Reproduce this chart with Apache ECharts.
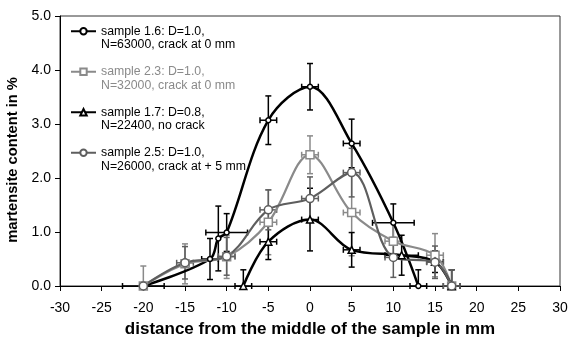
<!DOCTYPE html>
<html>
<head>
<meta charset="utf-8">
<script src="https://cdn.jsdelivr.net/npm/echarts@6/dist/echarts.min.js"></script>
<style>
  html, body { margin: 0; padding: 0; background: #fff; overflow: hidden; }
  #chart_block { width: 568px; height: 338px; }
</style>
</head>
<body>
<div id="chart_block"></div>
<script>
var xTicks = [-30, -25, -20, -15, -10, -5, 0, 5, 10, 15, 20, 25, 30];
var yTicks = [0, 1, 2, 3, 4, 5];

// sample 1.6
var s16_x  = [-20, -12, -11, -10, -5, 0, 5, 10, 13];
var s16_y  = [0, 0.50, 0.88, 0.99, 3.07, 3.69, 2.64, 1.17, 0];
var s16_xe = [2.5, 1, 0, 2.5, 1, 1, 1, 2.5, 1];
var s16_ye = [0, 0.38, 0.6, 0.35, 0.45, 0.43, 0.45, 0.35, 0.3];

// sample 2.3
var s23_x  = [-20, -15, -10, -5, 0, 5, 10, 15, 17];
var s23_y  = [0, 0.41, 0.54, 1.18, 2.43, 1.36, 0.83, 0.57, 0];
var s23_xe = [0, 0.5, 1, 1, 1, 1, 1, 1, 0];
var s23_ye = [0.37, 0.37, 0.4, 0.6, 0.35, 0.8, 0.35, 0.4, 0.3];

// sample 1.7
var s17_x  = [-8, -5, 0, 5, 11, 15, 17];
var s17_y  = [0, 0.82, 1.23, 0.67, 0.57, 0.45, 0];
var s17_xe = [1, 1, 1, 1, 2, 1, 1];
var s17_ye = [0.3, 0.33, 0.58, 0.32, 0.37, 0.2, 0.3];

// sample 2.5
var s25_x  = [-20, -15, -10, -5, 0, 5, 10, 15, 17];
var s25_y  = [0, 0.43, 0.55, 1.41, 1.62, 2.10, 0.53, 0.44, 0];
var s25_xe = [0, 1, 1, 1, 1, 1, 1, 1, 1];
var s25_ye = [0, 0.3, 0.35, 0.37, 0.4, 0.45, 0.37, 0.3, 0.3];

var names = [
  'sample 1.6: D=1.0,\nN=63000, crack at 0 mm',
  'sample 2.3: D=1.0,\nN=32000, crack at 0 mm',
  'sample 1.7: D=0.8,\nN=22400, no crack',
  'sample 2.5: D=1.0,\nN=26000, crack at + 5 mm'
];

const c16 = '#000000';
const c23 = '#8a8a8a';
const c17 = '#000000';
const c25 = '#5e5e5e';

var font = '"Liberation Sans", Arial, sans-serif';

function pts(xs, ys){
  return xs.map(function(x, i){ return [x, ys[i]]; });
}

function lineSeries(name, color, xs, ys, symbol, size, width){
  return {
    name: name,
    type: 'line',
    data: pts(xs, ys),
    smooth: 0.35,
    symbol: symbol,
    symbolSize: size,
    showAllSymbol: true,
    z: 3,
    lineStyle: { color: color, width: width },
    itemStyle: { color: '#fff', borderColor: color, borderWidth: 1.5 }
  };
}

function errSeries(color, xs, ys, xe, ye){
  return {
    type: 'custom',
    z: 2,
    silent: true,
    data: xs.map(function(x, i){ return [x, ys[i], xe[i], ye[i]]; }),
    renderItem: function(params, api){
      var x = api.value(0), y = api.value(1), dx = api.value(2), dy = api.value(3);
      var cap = 3;
      var kids = [];
      var st = { stroke: color, lineWidth: 1.5 };
      if (dy > 0){
        var top = api.coord([x, y + dy]);
        var lo = Math.max(y - dy, 0);
        var bot = api.coord([x, lo]);
        kids.push({ type: 'line', shape: { x1: top[0], y1: top[1], x2: bot[0], y2: bot[1] }, style: st });
        kids.push({ type: 'line', shape: { x1: top[0] - cap, y1: top[1], x2: top[0] + cap, y2: top[1] }, style: st });
        if (y - dy >= 0) kids.push({ type: 'line', shape: { x1: bot[0] - cap, y1: bot[1], x2: bot[0] + cap, y2: bot[1] }, style: st });
      }
      if (dx > 0){
        var l = api.coord([x - dx, y]);
        var r = api.coord([x + dx, y]);
        kids.push({ type: 'line', shape: { x1: l[0], y1: l[1], x2: r[0], y2: r[1] }, style: st });
        kids.push({ type: 'line', shape: { x1: l[0], y1: l[1] - cap, x2: l[0], y2: l[1] + cap }, style: st });
        kids.push({ type: 'line', shape: { x1: r[0], y1: r[1] - cap, x2: r[0], y2: r[1] + cap }, style: st });
      }
      return { type: 'group', children: kids };
    }
  };
}

var chartDom = document.getElementById('chart_block');
var myChart = echarts.init(chartDom);

var options = {
  animation: false,
  textStyle: { fontFamily: font },
  legend: {
    orient: 'vertical',
    left: 70,
    top: 11,
    padding: 0,
    itemGap: 0,
    itemWidth: 25,
    itemHeight: 8,
    data: [
      { name: names[0], textStyle: { color: '#000' } },
      { name: names[1], textStyle: { color: c23 } },
      { name: names[2], textStyle: { color: '#000' } },
      { name: names[3], textStyle: { color: '#000' } }
    ],
    // blank first line keeps the icon level with the first text line
    formatter: function(name){ return ' \n' + name; },
    textStyle: {
      fontFamily: font,
      fontSize: 12.3,
      lineHeight: 13.5
    }
  },
  grid: {
    left: 60,
    right: 8,
    top: 16,
    bottom: 52,
    outerBoundsMode: 'none',
    show: true,
    borderColor: '#333',
    borderWidth: 1
  },
  xAxis: {
    type: 'value',
    min: -30,
    max: 30,
    interval: 5,
    name: 'distance from the middle of the sample in mm',
    nameLocation: 'middle',
    nameGap: 35,
    nameTextStyle: { fontFamily: font, fontSize: 17, fontWeight: 'bold', color: '#000' },
    axisLine: { onZero: false, lineStyle: { color: '#000', width: 1 } },
    axisTick: { show: true, length: 5, lineStyle: { color: '#000' } },
    axisLabel: {
      margin: 15,
      fontFamily: font,
      fontSize: 14,
      color: '#000',
      formatter: function(v){ return xTicks.indexOf(v) >= 0 ? String(v) : ''; }
    },
    splitLine: { show: false }
  },
  yAxis: {
    type: 'value',
    min: yTicks[0],
    max: yTicks[yTicks.length - 1],
    interval: 1,
    name: 'martensite content in %',
    nameLocation: 'middle',
    nameGap: 37,
    nameTextStyle: { fontFamily: font, fontSize: 14.7, fontWeight: 'bold', color: '#000', padding: [0, 18, 0, 0] },
    axisLine: { show: true, onZero: false, lineStyle: { color: '#000', width: 1 } },
    axisTick: { show: true, length: 5, lineStyle: { color: '#000' } },
    axisLabel: {
      margin: 9,
      fontFamily: font,
      fontSize: 14,
      color: '#000',
      formatter: function(v){ return v.toFixed(1); }
    },
    splitLine: { show: false }
  },
  series: [
    errSeries(c16, s16_x, s16_y, s16_xe, s16_ye),
    errSeries(c23, s23_x, s23_y, s23_xe, s23_ye),
    errSeries(c17, s17_x, s17_y, s17_xe, s17_ye),
    errSeries(c25, s25_x, s25_y, s25_xe, s25_ye),
    lineSeries(names[0], c16, s16_x, s16_y, 'circle', 5, 2.5),
    lineSeries(names[1], c23, s23_x, s23_y, 'rect', 8, 2.2),
    lineSeries(names[2], c17, s17_x, s17_y, 'triangle', 7, 2.5),
    lineSeries(names[3], c25, s25_x, s25_y, 'circle', 8, 2.2)
  ]
};

myChart.setOption(options, true);
</script>
</body>
</html>
